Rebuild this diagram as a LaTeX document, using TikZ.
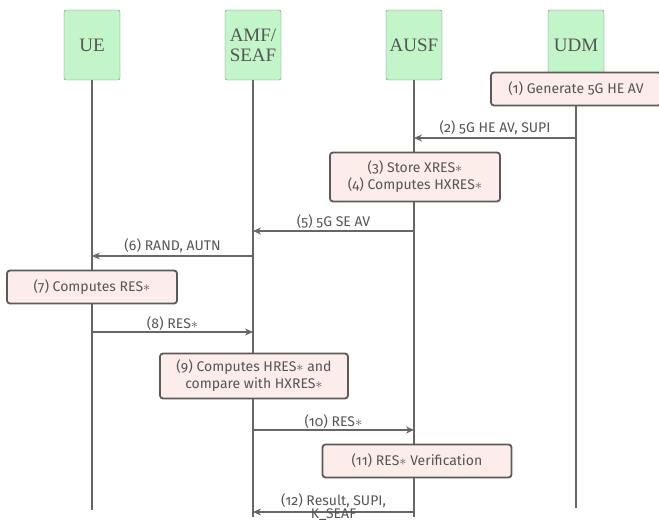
\documentclass[tikz,border=0pt]{standalone}
\usepackage{fontspec}
\setmainfont{Liberation Serif}
\newfontfamily\stepfont[Numbers=OldStyle]{Fira Sans}
\usetikzlibrary{arrows.meta}
\definecolor{hdrgreen}{HTML}{C2F5C8}
\definecolor{hdrborder}{HTML}{7A7A7A}
\definecolor{boxpink}{HTML}{FDEDEA}
\definecolor{boxborder}{HTML}{5A5A5A}
\definecolor{seqgray}{HTML}{666666}
\definecolor{seqtext}{HTML}{555555}
\newcommand\astr{\ensuremath{\ast}}

\begin{document}
\begin{tikzpicture}[x=1pt,y=-1pt,
  actor/.style={draw=hdrborder, fill=hdrgreen, rounded corners=2pt,
                minimum width=56pt, minimum height=70pt, align=center,
                font=\fontsize{19}{20}\selectfont\color{seqtext}},
  stepbox/.style={draw=boxborder, fill=boxpink, rounded corners=3pt,
                  line width=1.8pt, minimum height=33pt, align=center,
                  font=\stepfont\fontsize{14}{17}\selectfont\color{seqtext}},
  life/.style={draw=seqgray, line width=2pt},
  msg/.style={-{Stealth[length=8pt,width=7pt]}, draw=seqgray, line width=1.8pt},
  lbl/.style={font=\stepfont\fontsize{14}{15}\selectfont\color{seqtext},
              inner sep=2pt}
]
  \useasboundingbox (0,0) rectangle (659,521);

  % participants
  \node[actor] (ue)   at (92,45)  {UE};
  \node[actor] (amf)  at (253,45) {AMF/\\SEAF};
  \node[actor] (ausf) at (414,45) {AUSF};
  \node[actor] (udm)  at (576,45) {UDM};

  % lifelines
  \foreach \n/\e in {ue/510, amf/517, ausf/517, udm/508} {
    \coordinate (\n-end) at (\n |- 0,\e);
    \draw[life] (\n) -- (\n-end);
  }

  % steps
  \node[stepbox, minimum width=170pt] (gen) at (576,89) {(1) Generate 5G HE AV};

  \draw[msg] (udm |- 0,138) -- node[lbl,above] {(2) 5G HE AV, SUPI} (ausf |- 0,138);

  \node[stepbox, minimum width=170pt, minimum height=49pt] (store) at (415,177)
    {(3) Store XRES\astr\\(4) Computes HXRES\astr};

  \draw[msg] (ausf |- 0,231) -- node[lbl,above] {(5) 5G SE AV} (amf |- 0,231);
  \draw[msg] (amf |- 0,256) -- node[lbl,above] {(6) RAND, AUTN} (ue |- 0,256);

  \node[stepbox, minimum width=170pt] (res) at (92,287) {(7) Computes RES\astr};

  \draw[msg] (ue |- 0,332) -- node[lbl,above,inner sep=1pt] {(8) RES\astr} (amf |- 0,332);

  \node[stepbox, minimum width=188pt, minimum height=45pt] (hres) at (254,376)
    {(9) Computes HRES\astr{} and\\compare with HXRES\astr};

  \draw[msg] (amf |- 0,430) -- node[lbl,above,inner sep=1pt] {(10) RES\astr} (ausf |- 0,430);

  \node[stepbox, minimum width=189pt] (verif) at (417,461) {(11) RES\astr{} Verification};

  \draw[msg] (ausf |- 0,512) -- node[lbl,align=center,yshift=5pt,
    font=\stepfont\fontsize{14}{12}\selectfont\color{seqtext}]
    {(12) Result, SUPI,\\K\_SEAF} (amf |- 0,512);
\end{tikzpicture}
\end{document}
